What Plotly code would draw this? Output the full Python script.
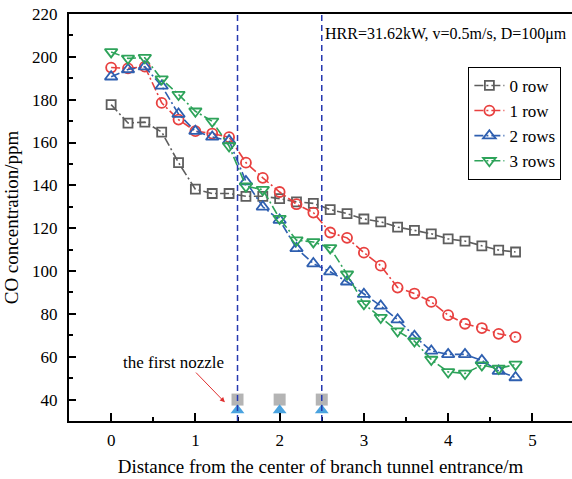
import plotly.graph_objects as go

# ---- data ----
distance = [0.0, 0.2, 0.4, 0.6, 0.8, 1.0, 1.2, 1.4, 1.6, 1.8, 2.0, 2.2, 2.4,
            2.6, 2.8, 3.0, 3.2, 3.4, 3.6, 3.8, 4.0, 4.2, 4.4, 4.6, 4.8]
row0 = [177.7, 169.1, 169.5, 164.9, 150.6, 138.2, 136.2, 136.2, 134.9, 134.9,
        133.8, 132.3, 131.6, 128.7, 126.8, 124.3, 123.0, 120.5, 119.0, 117.4,
        115.0, 114.0, 111.8, 109.8, 108.9]
row1 = [195.0, 194.6, 195.4, 178.5, 170.7, 165.3, 164.2, 162.5, 150.6, 143.5,
        136.9, 131.2, 127.3, 118.0, 115.5, 108.6, 102.5, 92.3, 89.5, 85.6,
        79.4, 75.4, 73.4, 70.7, 69.2]
row2 = [190.7, 194.1, 195.4, 186.4, 173.3, 165.3, 162.6, 160.9, 141.8, 130.0,
        123.8, 110.6, 103.5, 99.7, 95.0, 89.2, 83.7, 77.3, 69.6, 62.7,
        61.1, 61.1, 58.3, 53.3, 50.3]
row3 = [202.3, 199.3, 199.6, 189.6, 182.4, 174.6, 169.9, 158.4, 139.6, 138.0,
        124.5, 114.4, 113.6, 110.8, 98.5, 84.7, 78.3, 72.0, 67.3, 58.7,
        52.9, 52.2, 56.1, 54.5, 56.4]
series_names = ["0 row", "1 row", "2 rows", "3 rows"]

nozzle_x = [1.5, 2.0, 2.5]
nozzle_square_y = [40, 40, 40]
nozzle_triangle_y = [35, 35, 35]

condition_text = "HRR=31.62kW, v=0.5m/s, D=100μm"
nozzle_label = "the first nozzle"

# ---- styles ----
FONT = "Liberation Serif"
colors = ["#5e5e5e", "#e8403f", "#2e5fb0", "#2ea35a"]
symbols = ["square-open", "circle-open", "triangle-up-open", "triangle-down-open"]
sizes = [9, 10, 11, 11]

fig = go.Figure()

for ys, name, c, s, sz in zip([row0, row1, row2, row3], series_names, colors, symbols, sizes):
    fig.add_trace(go.Scatter(
        x=distance, y=ys, name=name, mode="lines+markers",
        line=dict(color=c, width=1.6, dash="9px,3px,2px,3px"),
        marker=dict(symbol=s, size=sz, color=c, line=dict(color=c, width=1.8)),
    ))

# nozzle markers
fig.add_trace(go.Scatter(
    x=nozzle_x, y=nozzle_square_y, mode="markers", showlegend=False,
    marker=dict(symbol="square", size=12, color="#b4b4b4"),
))
fig.add_trace(go.Scatter(
    x=nozzle_x, y=nozzle_triangle_y, mode="markers", showlegend=False,
    marker=dict(symbol="triangle-up", size=12, color="#4aa3df"),
))

# dashed vertical lines at first and last nozzle
for xv in (nozzle_x[0], nozzle_x[-1]):
    fig.add_shape(type="line", xref="x", yref="paper", x0=xv, x1=xv, y0=0, y1=1,
                  line=dict(color="#2538b0", width=1.5, dash="6px,4px"))

# annotations
fig.add_annotation(x=5.43, y=210.6, xref="x", yref="y", text=condition_text,
                   showarrow=False, xanchor="right", yanchor="middle",
                   font=dict(family=FONT, size=16, color="black"))
fig.add_annotation(x=0.74, y=57.4, xref="x", yref="y", text=nozzle_label,
                   showarrow=False, xanchor="center", yanchor="middle",
                   font=dict(family=FONT, size=17, color="black"))
fig.add_annotation(x=1.35, y=38.7, xref="x", yref="y", ax=0.99, ay=53.3,
                   axref="x", ayref="y", text="", showarrow=True,
                   arrowhead=2, arrowsize=1, arrowwidth=1, arrowcolor="#e03030")

fig.update_layout(
    width=572, height=479,
    margin=dict(l=69, r=0, t=14, b=58, autoexpand=False),
    paper_bgcolor="white", plot_bgcolor="white",
    font=dict(family=FONT, size=17, color="black"),
    showlegend=True,
    legend=dict(x=0.794, y=0.87, xanchor="left", yanchor="top",
                bordercolor="black", borderwidth=1, bgcolor="white",
                font=dict(family=FONT, size=17), tracegroupgap=0),
    xaxis=dict(range=[-0.5, 5.47], tick0=0, dtick=1, showgrid=False, zeroline=False,
               automargin=False,
               showline=True, linecolor="black", linewidth=2, mirror=True,
               ticks="inside", ticklen=8, tickwidth=1.5, tickcolor="black",
               ticklabelstandoff=3, tickfont=dict(family=FONT, size=17),
               minor=dict(ticks="inside", ticklen=4, tickwidth=1.5, dtick=0.5, tick0=0, tickcolor="black"),
               title=dict(text="Distance from the center of branch tunnel entrance/m",
                          font=dict(family=FONT, size=19), standoff=10)),
    yaxis=dict(range=[30, 220], tick0=0, dtick=20, showgrid=False, zeroline=False,
               automargin=False,
               showline=True, linecolor="black", linewidth=2, mirror=False,
               ticks="inside", ticklen=7, tickwidth=1.5, tickcolor="black",
               ticklabelstandoff=6, tickfont=dict(family=FONT, size=17),
               minor=dict(ticks="inside", ticklen=4, tickwidth=1.5, dtick=10, tick0=0, tickcolor="black"),
               title=dict(text="CO concentration/ppm",
                          font=dict(family=FONT, size=19), standoff=8)),
)

fig.write_html("out.html", config={"displayModeBar": False},
               post_script="document.body.style.margin='0';")
